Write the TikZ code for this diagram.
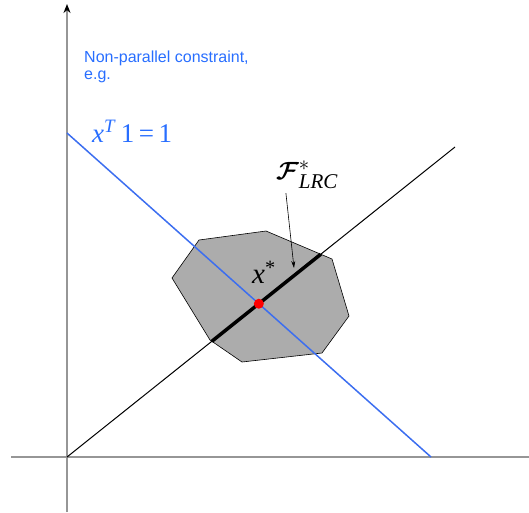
\documentclass[tikz,border=0pt]{standalone}
\usepackage{fontspec}
\setmainfont{Liberation Serif}
\newfontfamily\arialfont{Liberation Sans}
\usepackage{amsmath}
\usetikzlibrary{arrows.meta,calc,intersections}
\definecolor{axisgray}{RGB}{150,150,150}
\definecolor{regiongray}{RGB}{172,172,172}
\definecolor{lineblue}{RGB}{60,110,240}
\definecolor{textblue}{RGB}{40,110,255}

\begin{document}
\begin{tikzpicture}[x=1pt,y=-1pt,>=Stealth]
    \useasboundingbox (0,0) rectangle (529,512);

    % Axes
    \coordinate (O) at (67,457);
    \coordinate (xleft) at (11,457);
    \coordinate (xright) at (529,457);
    \coordinate (ybot) at (67,512);
    \coordinate (ytop) at (67,4);
    \draw[axisgray, line width=1.5pt] (xleft) -- (xright);
    \draw[axisgray, line width=1.5pt, -{Stealth[black,length=9pt,width=7pt]}] (ybot) -- (ytop);

    % Feasible region
    \filldraw[fill=regiongray, draw=black, line width=0.6pt, name path=region]
        (199,240) -- (266,231) -- (332,259) -- (349,316)
        -- (322,353) -- (242,362) -- (210,340) -- (172,278) -- cycle;

    % Ray through the optimum and the constraint line
    \coordinate (rayend) at (455,147);
    \coordinate (bluetop) at (67,133);
    \coordinate (bluebot) at (431,457);
    \draw[black, line width=1pt, name path=ray] (O) -- (rayend);
    \draw[lineblue, line width=1.5pt, name path=plane] (bluetop) -- (bluebot);

    % Part of the ray inside the region
    \draw[black, line width=3.5pt, name intersections={of=region and ray, name=r}]
        (r-1) -- (r-2);

    % Optimum
    \fill[red, name intersections={of=ray and plane, name=p}] (p-1) circle (5pt);
    \node[inner sep=0, font=\fontsize{29}{30}\selectfont] (xstar) at (264,272)
        {\textit{x}\textsuperscript{*}};

    % Labels
    \node[anchor=north west, inner sep=0, align=left, text=textblue,
          font=\arialfont\fontsize{16}{17}\selectfont] (note) at (84,51)
        {Non-parallel constraint,\\e.g.};
    \node[anchor=base west, inner sep=0, text=textblue,
          font=\fontsize{27}{28}\selectfont] (eq) at (92,142)
        {\textit{x}\textsuperscript{\textit{T}}\,1\,=\,1};
    \node[inner sep=0, font=\fontsize{30}{32}\selectfont] (flrc) at (307,175)
        {$\boldsymbol{\mathcal{F}}^{*}_{\mathit{LRC}}$};

    \coordinate (ftip) at (294,268);
    \draw[-{Stealth[length=7pt,width=4pt]}, line width=0.6pt]
        ($(flrc.south west)+(10,4)$) -- (ftip);

\end{tikzpicture}
\end{document}
